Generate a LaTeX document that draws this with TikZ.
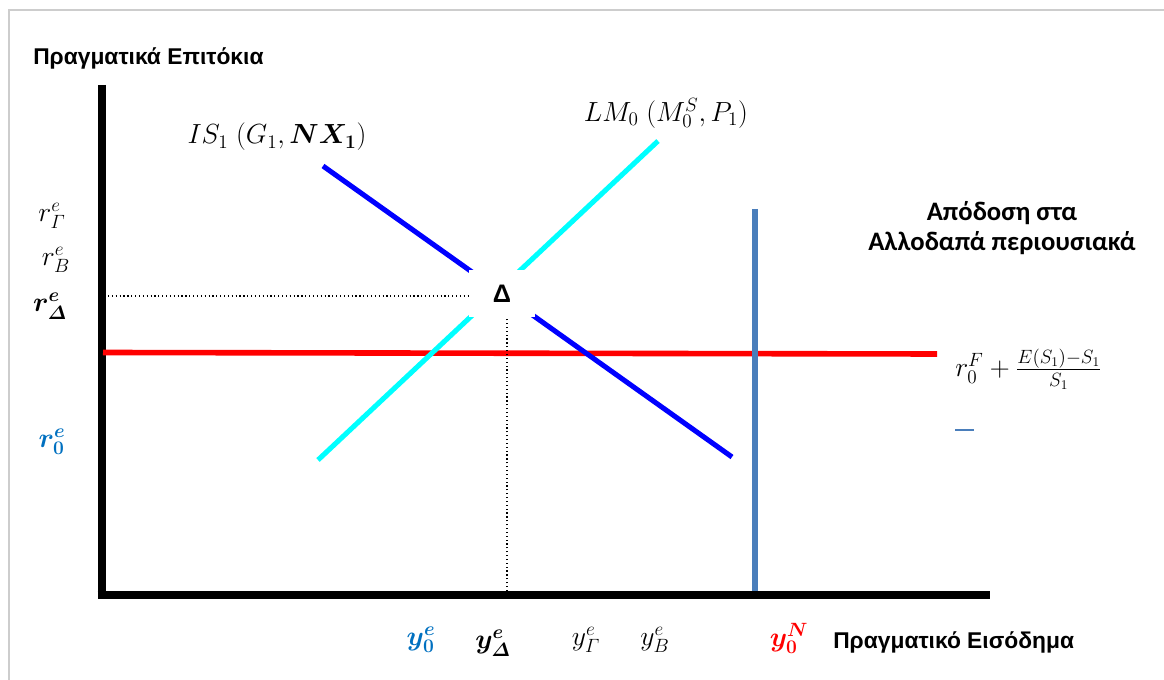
\documentclass[tikz,border=0pt]{standalone}
\usepackage{amsmath,bm}
\usepackage{fontspec}
\newfontfamily\arialf{Liberation Sans}
\newfontfamily\calibf{Carlito}
\definecolor{labblue}{RGB}{0,112,192}
\definecolor{steel}{RGB}{74,126,187}
\definecolor{isblue}{RGB}{0,0,255}
\definecolor{lmcyan}{RGB}{0,255,255}
\definecolor{framegray}{RGB}{205,205,205}
\tikzset{
  axisline/.style={line width=6pt, black},
  isline/.style={line width=3.8pt, isblue},
  lmline/.style={line width=3.8pt, lmcyan},
  bpline/.style={line width=4.2pt, red},
  natline/.style={line width=4.5pt, steel},
  guide/.style={dotted, line width=0.9pt},
  mathlab/.style={inner sep=0pt, font=\fontsize{20}{24}\selectfont},
  greekhead/.style={inner sep=0pt, font=\arialf\bfseries\fontsize{17.1}{20}\selectfont},
  calhead/.style={inner sep=0pt, align=center, font=\calibf\bfseries\fontsize{20}{22.5}\selectfont},
}
\begin{document}
\begin{tikzpicture}[x=0.75pt, y=-0.75pt]
\useasboundingbox (0,0) rectangle (1164,680);
% frame
\draw[framegray, line width=1.5pt] (8.5,680) -- (8.5,10.5) -- (1164,10.5);
% axes
\coordinate (yax) at (101.5,85);
\coordinate (orig) at (101.5,595);
\coordinate (xax) at (990,595);
\draw[axisline] (yax) -- (orig |- 0,599);
\draw[axisline] (97.5,595) -- (xax);
% lines
\coordinate (bpL) at (103,352.5);
\coordinate (bpR) at (937,354);
\draw[bpline] (bpL) -- (bpR);
\coordinate (ynT) at (755,209);
\coordinate (ynB) at (755,591);
\draw[natline] (ynT) -- (ynB);
\coordinate (isT) at (323,166);
\coordinate (isB) at (732,457);
\draw[isline] (isT) -- (isB);
\coordinate (lmB) at (318,460);
\coordinate (lmT) at (658,141);
\draw[lmline] (lmB) -- (lmT);
\coordinate (dashL) at (955,430);
\coordinate (dashR) at (974,430);
\draw[steel, line width=1.2pt] (dashL) -- (dashR);
% equilibrium point
\node[fill=white, minimum width=66*0.75pt, minimum height=47*0.75pt, inner sep=0pt,
      font=\arialf\bfseries\fontsize{19}{22}\selectfont] (D) at (502,293.5) {Δ};
\coordinate (dl) at (108,296);
\draw[guide] (dl) -- (dl -| D.west);
\coordinate (db) at (507,591);
\draw[guide] (db) -- (db |- D.south);
% titles
\node[greekhead, anchor=west] (ttl) at (33,58) {Πραγματικά Επιτόκια};
\node[greekhead, anchor=west] (xtl) at (833,642) {Πραγματικό Εισόδημα};
\node[calhead] (fr) at (1002,228) {Απόδοση στα\\Αλλοδαπά περιουσιακά};
% curve labels
\node[mathlab] (isl) at (277,137) {$IS_1\;(G_1, \bm{NX_1})$};
\node[mathlab] (lml) at (666,113) {$LM_0\;(M_0^S, P_1)$};
\node[mathlab, anchor=west] (rfl) at (955,369) {$r_0^F+\frac{E(S_1)-S_1}{S_1}$};
% y-axis labels
\node[mathlab] (rG) at (52,216) {$r^e_{\varGamma}$};
\node[mathlab] (rB) at (56,260) {$r^e_B$};
\node[mathlab] (rD) at (50,306) {$\bm{r^e_{\varDelta}}$};
\node[mathlab, text=labblue] (r0) at (52,442) {$\bm{r^e_0}$};
% x-axis labels
\node[mathlab, text=labblue] (y0) at (421,640) {$\bm{y^e_0}$};
\node[mathlab] (yD) at (493,643) {$\bm{y^e_{\varDelta}}$};
\node[mathlab] (yG) at (586,640) {$y^e_{\varGamma}$};
\node[mathlab] (yB) at (655,640) {$y^e_B$};
\node[mathlab, text=red] (yN) at (789,638) {$\bm{y^N_0}$};
\end{tikzpicture}
\end{document}
